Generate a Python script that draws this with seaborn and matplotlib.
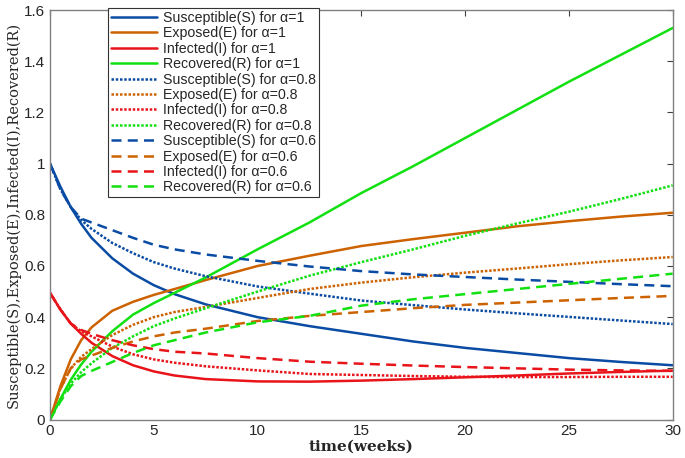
"""SEIR fractional model curves"""
import seaborn as sns
import matplotlib
matplotlib.use('Agg')
import matplotlib.pyplot as plt

# time grid (weeks)
t = [0, 0.5, 1, 1.5, 2, 3, 4, 5, 6, 7.5, 10, 12.5, 15, 17.5, 20, 22.5, 25, 27.5, 30]

# alpha = 1
s_10 = [1.0, 0.91, 0.83, 0.765, 0.71, 0.63, 0.57, 0.525, 0.49, 0.45, 0.40, 0.365, 0.335, 0.305, 0.28, 0.26, 0.24, 0.225, 0.212]
e_10 = [0, 0.13, 0.235, 0.31, 0.36, 0.425, 0.46, 0.487, 0.51, 0.545, 0.60, 0.64, 0.678, 0.705, 0.73, 0.755, 0.775, 0.793, 0.808]
i_10 = [0.495, 0.43, 0.375, 0.335, 0.30, 0.248, 0.212, 0.188, 0.172, 0.158, 0.149, 0.148, 0.152, 0.158, 0.165, 0.172, 0.18, 0.186, 0.191]
r_10 = [0, 0.08, 0.155, 0.215, 0.265, 0.345, 0.41, 0.455, 0.495, 0.555, 0.665, 0.77, 0.885, 0.99, 1.10, 1.21, 1.32, 1.425, 1.53]

# alpha = 0.8
s_08 = [1.0, 0.90, 0.83, 0.78, 0.745, 0.69, 0.65, 0.615, 0.59, 0.56, 0.52, 0.492, 0.465, 0.447, 0.43, 0.415, 0.401, 0.387, 0.373]
e_08 = [0, 0.12, 0.20, 0.245, 0.275, 0.33, 0.37, 0.40, 0.42, 0.44, 0.475, 0.51, 0.535, 0.556, 0.574, 0.59, 0.607, 0.622, 0.635]
i_08 = [0.495, 0.43, 0.375, 0.345, 0.325, 0.285, 0.255, 0.235, 0.222, 0.208, 0.192, 0.178, 0.174, 0.17, 0.167, 0.166, 0.166, 0.167, 0.167]
r_08 = [0, 0.08, 0.14, 0.185, 0.22, 0.28, 0.325, 0.365, 0.395, 0.435, 0.50, 0.562, 0.615, 0.665, 0.718, 0.766, 0.812, 0.862, 0.915]

# alpha = 0.6
s_06 = [1.0, 0.90, 0.83, 0.785, 0.77, 0.74, 0.71, 0.683, 0.665, 0.645, 0.62, 0.598, 0.58, 0.567, 0.557, 0.547, 0.538, 0.529, 0.521]
e_06 = [0, 0.12, 0.20, 0.235, 0.25, 0.28, 0.305, 0.325, 0.34, 0.355, 0.385, 0.405, 0.42, 0.435, 0.448, 0.457, 0.466, 0.475, 0.483]
i_06 = [0.495, 0.43, 0.375, 0.35, 0.335, 0.31, 0.29, 0.275, 0.265, 0.258, 0.24, 0.226, 0.218, 0.211, 0.205, 0.2, 0.195, 0.192, 0.19]
r_06 = [0, 0.07, 0.13, 0.17, 0.19, 0.225, 0.26, 0.29, 0.31, 0.34, 0.38, 0.405, 0.445, 0.47, 0.49, 0.51, 0.53, 0.55, 0.57]

names = ['Susceptible(S)', 'Exposed(E)', 'Infected(I)', 'Recovered(R)']
colors = ['#0a4ca3', '#cc6200', '#e8141a', '#11e011']

sns.set_style('white')
plt.rcParams['font.family'] = ['Liberation Sans', 'DejaVu Sans']

fig = plt.figure(figsize=(6.85, 4.58), dpi=100)
ax = fig.add_axes([0.073, 0.084, 0.909, 0.894])

groups = [
    ('1', [s_10, e_10, i_10, r_10], '-'),
    ('0.8', [s_08, e_08, i_08, r_08], (0, (1, 0.7))),
    ('0.6', [s_06, e_06, i_06, r_06], (0, (4, 2.5))),
]
for alpha, series, ls in groups:
    for name, vals, c in zip(names, series, colors):
        sns.lineplot(x=t, y=vals, ax=ax, color=c, linestyle=ls, linewidth=1.8,
                     label=name + ' for α=' + alpha)

ax.set_xlim(0, 30)
ax.set_ylim(0, 1.6)
ax.set_xticks(range(0, 31, 5))
ax.set_yticks([0, 0.2, 0.4, 0.6, 0.8, 1, 1.2, 1.4, 1.6])
ax.set_yticklabels(['0', '0.2', '0.4', '0.6', '0.8', '1', '1.2', '1.4', '1.6'])
ax.tick_params(direction='in', length=4, top=True, right=True, labelsize=11,
               color='#404040', width=0.8)
for sp in ax.spines.values():
    sp.set_color('#808080')
    sp.set_linewidth(1.0)

ax.set_xlabel('time(weeks)', family='DejaVu Serif', fontweight='bold', fontsize=11, labelpad=1)
ax.set_ylabel('Susceptible(S),Exposed(E),Infected(I),Recovered(R)', family='DejaVu Serif',
              fontsize=10.5, labelpad=2)

leg = ax.legend(loc='upper left', bbox_to_anchor=(0.093, 1.005), fontsize=10.2,
                frameon=True, fancybox=False, framealpha=1, edgecolor='#333333',
                handlelength=3.3, handletextpad=0.4, labelspacing=0.1,
                borderpad=0.2, borderaxespad=0)
leg.get_frame().set_linewidth(0.8)

fig.savefig('out.png', dpi=100)
